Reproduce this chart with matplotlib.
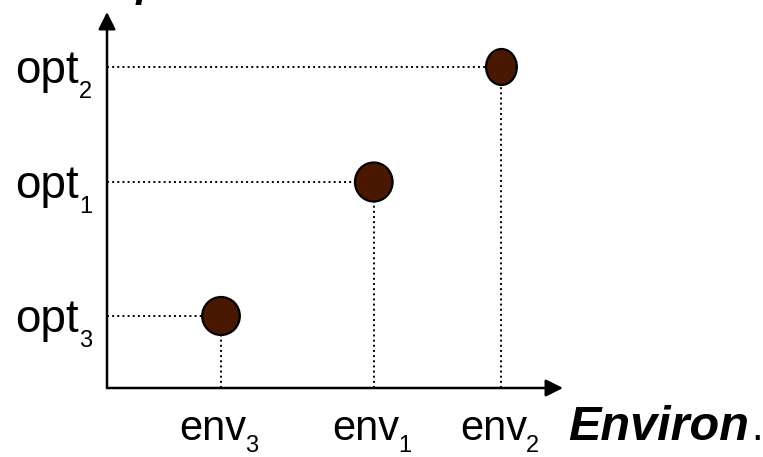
import numpy as np
import matplotlib.pyplot as plt
from matplotlib.patches import Ellipse

plt.rcParams['font.family'] = ['Liberation Sans', 'DejaVu Sans']

# data
env_names = ['env', 'env', 'env']
env_subs = ['3', '1', '2']
opt_names = ['opt', 'opt', 'opt']
opt_subs = ['3', '1', '2']
env_vals = [1.0, 2.34, 3.46]
opt_vals = [0.72, 2.06, 3.21]

# marker sizes (width, height) in data units
sizes = [(0.33, 0.38), (0.33, 0.39), (0.27, 0.36)]
dot_col = '#4a1800'

fig = plt.figure(figsize=(7.63, 4.57), dpi=100)
ax = fig.add_axes([107/763, 69/457, 456/763, 376/457])
ax.set_xlim(0, 4)
ax.set_ylim(0, 3.76)
ax.set_xticks([])
ax.set_yticks([])
for s in ax.spines.values():
    s.set_visible(False)

# axes arrows
arr = dict(arrowstyle='-|>', color='black', lw=1.8, mutation_scale=26, shrinkA=0, shrinkB=0)
ax.annotate('', xy=(1, 0), xytext=(0, 0), xycoords='axes fraction', arrowprops=arr)
ax.annotate('', xy=(0, 1), xytext=(0, 0), xycoords='axes fraction', arrowprops=arr)

for i in range(len(env_vals)):
    x = env_vals[i]
    y = opt_vals[i]
    ax.plot([0, x], [y, y], ls=':', color='black', lw=1.4, zorder=1)
    ax.plot([x, x], [0, y], ls=':', color='black', lw=1.4, zorder=1)
    w, h = sizes[i]
    ax.add_patch(Ellipse((x, y), w, h, facecolor=dot_col, edgecolor='black', lw=1.6, zorder=3))

# tick labels with low subscripts
for x, nm, sb in zip(env_vals, env_names, env_subs):
    ax.annotate(nm, (x, 0), xycoords=('data', 'axes fraction'), xytext=(-8, -52),
                textcoords='offset pixels', ha='center', va='baseline', fontsize=30)
    ax.annotate(sb, (x, 0), xycoords=('data', 'axes fraction'), xytext=(24, -64),
                textcoords='offset pixels', ha='left', va='baseline', fontsize=17)

for y, nm, sb in zip(opt_vals, opt_names, opt_subs):
    ax.annotate(nm, (0, y), xycoords=('axes fraction', 'data'), xytext=(-28, -16),
                textcoords='offset pixels', ha='right', va='baseline', fontsize=33)
    ax.annotate(sb, (0, y), xycoords=('axes fraction', 'data'), xytext=(-28, -31),
                textcoords='offset pixels', ha='left', va='baseline', fontsize=17)

fig.text(568/763, 1 - 440/457, 'Environ', fontsize=35, fontweight='bold', fontstyle='italic', va='baseline')
fig.text(751/763, 1 - 440/457, '.', fontsize=30, va='baseline')
fig.text(105/763, 1 + 4/457, 'Opt.', fontsize=30, fontweight='bold', fontstyle='italic', va='baseline')

fig.savefig('out.png', dpi=100)
